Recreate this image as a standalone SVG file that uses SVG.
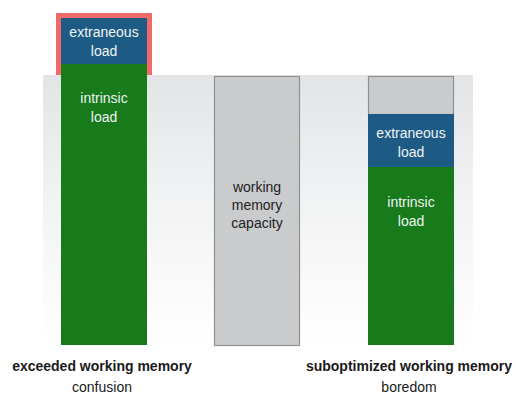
<svg xmlns="http://www.w3.org/2000/svg" width="516" height="398" viewBox="0 0 516 398">
  <defs>
    <linearGradient id="band" x1="0" y1="0" x2="0" y2="1">
      <stop offset="0" stop-color="#e3e4e6"/>
      <stop offset="0.45" stop-color="#f1f2f3"/>
      <stop offset="1" stop-color="#ffffff"/>
    </linearGradient>
    <style>
      .lbl { font-family: "Liberation Sans", Arial, sans-serif; font-size: 14px; text-anchor: middle; }
      .inv { fill: #eef3f3; }
      .dark { fill: #222222; }
      .green { fill: #177a1b; }
      .blue { fill: #1e5b84; }
      .gray { fill: #c9cbcd; }
      .cap { font-family: "Liberation Sans", Arial, sans-serif; font-size: 14px; text-anchor: middle; fill: #1a1a1a; }
    </style>
  </defs>
  <rect width="516" height="398" fill="#ffffff"/>
  <!-- shaded backdrop behind the bars -->
  <rect x="43" y="75" width="430" height="270" fill="url(#band)"/>

  <!-- working memory capacity -->
  <g id="capacity">
    <rect x="214.5" y="76.5" width="85" height="269" class="gray" stroke="#8e9092" stroke-width="1.2"/>
    <text class="lbl dark" x="257" y="192">working</text>
    <text class="lbl dark" x="257" y="210">memory</text>
    <text class="lbl dark" x="257" y="228">capacity</text>
  </g>

  <!-- overloaded case -->
  <g id="exceeded">
    <rect x="56" y="13" width="96" height="62" fill="#ef6a6a"/>
    <rect x="61" y="18" width="86" height="47" class="blue"/>
    <rect x="61" y="64" width="86" height="281" class="green"/>
    <text class="lbl inv" x="104" y="37">extraneous</text>
    <text class="lbl inv" x="104" y="56">load</text>
    <text class="lbl inv" x="104" y="103">intrinsic</text>
    <text class="lbl inv" x="104" y="122">load</text>
    <text class="cap" x="102" y="371" font-weight="bold">exceeded working memory</text>
    <text class="cap" x="102" y="392">confusion</text>
  </g>

  <!-- underused case -->
  <g id="suboptimized">
    <rect x="368.5" y="76.5" width="85" height="38" class="gray" stroke="#8e9092" stroke-width="1.2"/>
    <rect x="368" y="114" width="86" height="53" class="blue"/>
    <rect x="368" y="167" width="86" height="178" class="green"/>
    <text class="lbl inv" x="411" y="138">extraneous</text>
    <text class="lbl inv" x="411" y="157">load</text>
    <text class="lbl inv" x="411" y="207">intrinsic</text>
    <text class="lbl inv" x="411" y="226">load</text>
    <text class="cap" x="409" y="371" font-weight="bold">suboptimized working memory</text>
    <text class="cap" x="409" y="392">boredom</text>
  </g>
</svg>
